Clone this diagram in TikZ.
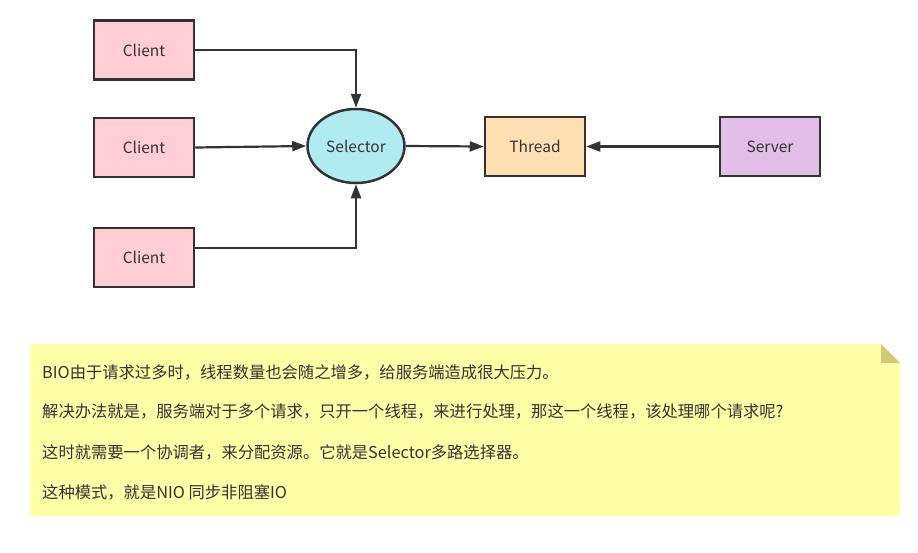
\documentclass[tikz,border=0pt]{standalone}
\usepackage{fontspec}
\setmainfont{Noto Sans CJK SC}
\usetikzlibrary{shapes.geometric,arrows.meta}
\definecolor{ink}{HTML}{333333}
\definecolor{clientfill}{HTML}{FFCDD3}
\definecolor{selfill}{HTML}{B1EBF2}
\definecolor{thrfill}{HTML}{FFE0B3}
\definecolor{srvfill}{HTML}{E1BFE7}
\definecolor{notefill}{HTML}{FFFFA8}
\definecolor{foldfill}{HTML}{CFCB78}
\tikzset{
  box/.style={draw=ink, line width=2.5pt, minimum width=100pt, minimum height=59pt, inner sep=0pt, text=ink, font=\fontsize{15.5}{18}\selectfont},
  oval/.style={ellipse, draw=ink, line width=2.5pt, minimum width=97pt, minimum height=74pt, inner sep=0pt, fill=selfill, text=ink, font=\fontsize{15.5}{18}\selectfont},
  conn/.style={draw=ink, line width=2.2pt, -{Triangle[length=14pt,width=10pt]}},
  notetext/.style={anchor=base west, inner sep=0pt, text=ink, font=\fontsize{16.3}{19}\selectfont}
}
\begin{document}
\begin{tikzpicture}[x=1pt,y=-1pt]
\useasboundingbox (0,0) rectangle (918,552);
\node[box, fill=clientfill] (c1) at (144,50) {Client};
\node[box, fill=clientfill] (c2) at (144,147.5) {Client};
\node[box, fill=clientfill] (c3) at (144,257.5) {Client};
\node[oval] (sel) at (356,146) {Selector};
\node[box, fill=thrfill] (thr) at (535,146.5) {Thread};
\node[box, fill=srvfill] (srv) at (770,146.5) {Server};
\draw[conn] (c1.east) -| (sel.north);
\draw[conn] (c2.east) -- (sel.west);
\draw[conn] (c3.east |- 0,248) -| (sel.south);
\draw[conn] (sel.east) -- (thr.west);
\draw[conn] (srv.west) -- (thr.east);
\fill[notefill] (30,344) -- (881,344) -- (900,363) -- (900,516) -- (30,516) -- cycle;
\fill[foldfill] (881,344) -- (900,363) -- (881,363) -- cycle;
\node[notetext] (t1) at (42,378.5) {BIO由于请求过多时，线程数量也会随之增多，给服务端造成很大压力。};
\node[notetext] (t2) at (42,417.5) {解决办法就是，服务端对于多个请求，只开一个线程，来进行处理，那这一个线程，该处理哪个请求呢?};
\node[notetext] (t3) at (42,458) {这时就需要一个协调者，来分配资源。它就是Selector多路选择器。};
\node[notetext] (t4) at (42,498) {这种模式，就是NIO 同步非阻塞IO};
\end{tikzpicture}
\end{document}
